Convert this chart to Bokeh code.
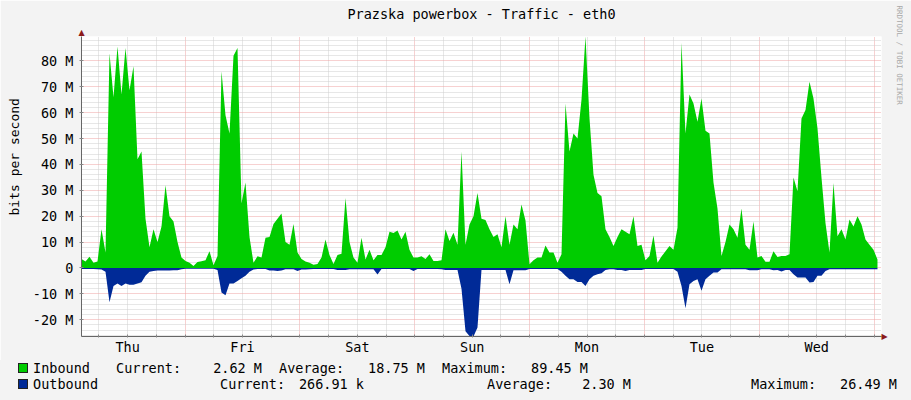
import numpy as np
from bokeh.plotting import figure
from bokeh.layouts import column
from bokeh.models import FixedTicker, Range1d, LinearAxis, Title, Div
from bokeh.embed import file_html
from bokeh.resources import INLINE

# ---------------- data ----------------
title_text = "Prazska powerbox - Traffic - eth0"
y_axis_label = "bits per second"
credit_text = "RRDTOOL / TOBI OETIKER"
day_names = ["Thu", "Fri", "Sat", "Sun", "Mon", "Tue", "Wed"]

# time of the first sample, hours after Thu 00:00, and sample spacing
start_hour = 2.36
step_minutes = 50.15

# inbound traffic, Mbit/s (one value per step)
inbound_M = [
    3.5, 2.5, 4.3, 2.0, 2.5, 15.0, 6.0, 83.0, 66.0, 85.6, 67.0, 85.0, 68.7, 78.0, 42.0, 45.0, 19.0,
    8.0, 15.0, 10.0, 16.0, 32.0, 20.0, 18.0, 10.0, 4.0, 2.7, 2.0, 0.8, 2.3, 2.6, 3.0, 6.5, 1.0,
    4.6, 76.0, 59.0, 52.0, 82.0, 85.0, 25.0, 33.0, 12.0, 2.0, 4.5, 4.0, 11.7, 12.0, 17.0, 19.0,
    21.0, 10.0, 9.0, 17.0, 6.0, 3.5, 2.5, 2.0, 1.2, 1.5, 4.0, 11.0, 5.0, 1.5, 5.0, 5.5, 27.0,
    10.0, 4.0, 2.0, 11.7, 3.3, 7.0, 3.0, 5.0, 5.0, 8.0, 14.0, 13.5, 14.5, 11.0, 14.0, 7.0, 4.0,
    4.0, 4.5, 3.5, 5.3, 2.7, 2.7, 3.0, 15.0, 10.4, 13.6, 9.0, 45.0, 9.0, 16.8, 20.0, 29.0,
    19.0, 18.5, 15.0, 12.0, 13.0, 8.0, 20.0, 9.0, 16.8, 15.0, 24.5, 18.3, 1.4, 3.0, 4.0, 4.0,
    8.7, 6.0, 6.0, 2.0, 5.3, 63.6, 45.0, 52.0, 50.0, 65.0, 89.45, 58.0, 36.0, 29.0, 27.7, 15.0,
    12.0, 8.5,
    12.0, 15.0, 14.0, 13.0, 20.0, 8.5, 9.0, 3.0, 4.6, 12.5, 2.0, 4.4, 6.5, 8.5, 7.0, 15.5, 87.0,
    52.0, 67.0, 63.6, 56.5, 65.5, 53.0, 52.0, 33.0, 23.0, 4.6, 10.0, 16.8, 15.0, 11.7, 23.0, 9.0,
    7.0, 18.0, 4.0, 4.6, 2.4, 2.4, 6.5, 4.2, 4.6, 4.6, 5.3, 35.0, 29.6, 57.8, 61.0, 72.0, 65.5,
    54.0, 35.0, 17.4, 6.0, 32.8, 12.3, 15.0, 11.0, 18.7, 16.0, 20.0, 16.8, 11.0, 9.0, 7.0, 3.3,
]

# outbound traffic, Mbit/s, drawn below zero
outbound_M = [
    -0.4, -0.4, -0.4, -0.4, -0.5, -0.6, -1.5, -13.3, -7.0, -6.0, -7.0, -6.0, -6.5, -6.5, -6.0,
    -5.5, -3.0, -1.5, -1.2, -1.0, -1.0, -1.0, -1.0, -0.9, -0.9, -0.5, -0.3, -0.3, -0.3, -0.3,
    -0.3, -0.3, -0.3, -0.3,
    -0.8, -9.5, -10.5, -6.0, -6.0, -5.0, -4.0, -3.0, -1.5, -0.6, -0.4, -0.4, -0.4, -1.0, -1.0,
    -1.2, -1.0, -0.5, -0.5, -0.5, -1.2, -0.6, -0.6, -0.5, -0.4, -0.4, -0.4, -0.4, -0.4, -0.4,
    -0.8, -0.8, -0.8,
    -0.5, -0.5, -0.5, -0.5, -0.5, -0.5, -0.5, -2.5, -0.4, -0.4, -0.4, -0.4, -0.4, -0.4, -0.4,
    -0.4, -1.2, -0.4, -0.4, -0.4, -0.4, -0.4, -0.4, -0.5, -0.8, -0.8, -0.8, -0.8, -8.0, -24.5,
    -26.3, -26.49, -23.0,
    -0.8, -0.8, -0.8, -0.8, -0.8, -0.8, -0.8, -6.3, -0.9, -0.9, -0.9, -0.9, -0.4, -0.4, -0.4,
    -0.4, -0.4, -0.4, -0.4, -0.4, -1.5, -3.0, -4.4, -4.4, -5.4, -5.4, -7.0, -4.4, -3.0, -2.4,
    -2.0, -0.8, -0.5, -0.5,
    -0.8, -0.8, -1.2, -0.8, -0.8, -0.8, -0.8, -0.4, -0.4, -0.4, -0.4, -0.4, -0.4, -0.4, -0.4,
    -1.5, -7.0, -15.6, -6.3, -5.0, -4.4, -8.8, -4.4, -3.0, -1.8, -1.8, -0.5, -0.5, -0.5, -0.5,
    -0.5, -0.5, -0.5,
    -0.9, -0.9, -0.9, -0.5, -0.5, -0.5, -0.9, -0.8, -1.4, -0.8, -0.8, -2.4, -3.7, -3.7, -3.7,
    -5.6, -5.4, -3.0, -3.0, -1.2, -0.5, -0.5, -0.5, -0.5, -0.5, -0.5, -0.5, -0.5, -0.5, -0.5,
    -0.5, -0.5, -0.5,
]

y_tick_values = [-20, -10, 0, 10, 20, 30, 40, 50, 60, 70, 80]
y_tick_labels = ["-20 M", "-10 M", "0", "10 M", "20 M", "30 M", "40 M", "50 M", "60 M", "70 M", "80 M"]

series_names = ["Inbound", "Outbound"]
stat_names = ["Current:", "Average:", "Maximum:"]
in_stats = ["2.62 M", "18.75 M", "89.45 M"]
out_stats = ["266.91 k", "2.30 M", "26.49 M"]

IN_COLOR = "#00CC00"
OUT_COLOR = "#002A97"
ARROW_C = "#8B1A1A"
BG = "#F3F3F3"
FONT = "DejaVu Sans Mono"
FS = "13.5px"

# ---------------- main chart ----------------
X0, X1 = 2.36, 2.36 + 167.17
Y0, Y1 = -26.49, 89.45

p = figure(frame_width=800, frame_height=300, output_backend="svg", toolbar_location=None,
           x_range=Range1d(X0, X1), y_range=Range1d(Y0, Y1),
           min_border_left=81, min_border_top=36, min_border_right=30, min_border_bottom=24)
p.border_fill_color = BG
p.background_fill_color = "#FFFFFF"
p.outline_line_color = None

t = start_hour + np.arange(len(inbound_M)) * step_minutes / 60.0
p.varea(x=t, y1=0, y2=inbound_M, fill_color=IN_COLOR)
p.varea(x=t, y1=0, y2=outbound_M, fill_color=OUT_COLOR)

midnights = [24 * d for d in range(1, 8)]
six_hours = [h for h in range(6, 170, 6) if h % 24 != 0]
noons = [24 * d + 12 for d in range(7)]
y_minor = [v for v in range(-26, 90, 2) if v % 10 != 0]

p.xgrid.ticker = FixedTicker(ticks=midnights, minor_ticks=six_hours)
p.ygrid.ticker = FixedTicker(ticks=y_tick_values, minor_ticks=y_minor)
for g in (p.xgrid, p.ygrid):
    g.grid_line_color = "#EFA3A3"
    g.grid_line_dash = "1 1"
    g.minor_grid_line_color = "#CFCFCF"
    g.minor_grid_line_dash = "1 1"

p.xaxis.ticker = FixedTicker(ticks=noons, minor_ticks=six_hours + midnights)
p.xaxis.major_label_overrides = {n: d for n, d in zip(noons, day_names)}
p.yaxis.ticker = FixedTicker(ticks=y_tick_values, minor_ticks=[])
p.yaxis.major_label_overrides = dict(zip(y_tick_values, y_tick_labels))

for ax in (p.xaxis[0], p.yaxis[0]):
    ax.axis_line_color = "#666666"
    ax.major_label_text_font = FONT
    ax.major_label_text_font_size = FS
    ax.major_label_text_color = "#000000"
    ax.major_tick_line_color = "#888888"
    ax.minor_tick_line_color = "#888888"
    ax.major_tick_in = 2
    ax.major_tick_out = 2
    ax.minor_tick_in = 2
    ax.minor_tick_out = 1
p.xaxis.major_tick_line_color = None
p.xaxis.major_label_standoff = 0
p.yaxis.major_label_standoff = 6

# arrow heads at the ends of the axes
p.extra_x_ranges = {"px": Range1d(0, 800)}
p.extra_y_ranges = {"py": Range1d(0, 300)}
top_arrow = LinearAxis(x_range_name="px", ticker=FixedTicker(ticks=[0]),
                       major_label_overrides={0: "\u25B2"})
right_arrow = LinearAxis(y_range_name="py", ticker=FixedTicker(ticks=[0]),
                         major_label_overrides={0: "\u25B6"})
for ax in (top_arrow, right_arrow):
    ax.axis_line_color = None
    ax.major_tick_line_color = None
    ax.minor_tick_line_color = None
    ax.major_tick_in = 0
    ax.major_tick_out = 0
    ax.minor_tick_in = 0
    ax.minor_tick_out = 0
    ax.major_label_standoff = 0
    ax.major_label_text_color = ARROW_C
    ax.major_label_text_font = "DejaVu Sans"
    ax.major_label_text_font_size = "8px"
p.add_layout(top_arrow, "above")
p.add_layout(right_arrow, "right")

p.add_layout(Title(text=title_text, align="center", text_font=FONT, text_font_size=FS,
                   text_font_style="normal", text_color="#000000", standoff=6), "above")
p.add_layout(Title(text=y_axis_label, align="left", offset=121, text_font=FONT,
                   text_font_size="13px", text_font_style="normal", text_color="#000000",
                   standoff=12, vertical_align="top"), "left")
p.add_layout(Title(text=credit_text, align="left", offset=-31, text_font=FONT,
                   text_font_size="7.5px", text_font_style="normal", text_color="#A8A8A8",
                   standoff=8), "right")

# ---------------- legend strip below the chart (pixel positions) ----------------
STRIP_TOP = 360                       # page y where the strip starts (= chart height)
row_base = [373, 389]                 # page y of the text baselines of the two rows
swatch_colors = [IN_COLOR, OUT_COLOR]
left_x = [[33, 116, 279, 442], [33, 220, 487, 751]]
right_x = [[262, 425, 588], [364, 631, 897]]
ASC = 0.846 * 13.5                    # baseline offset inside a line box of line-height 1

parts = []
for r, (name, stats) in enumerate(zip(series_names, [in_stats, out_stats])):
    top = row_base[r] - ASC - STRIP_TOP
    parts.append(
        f'<span style="position:absolute;left:18px;top:{row_base[r] - 10 - STRIP_TOP}px;'
        f'width:10px;height:10px;box-sizing:border-box;background:{swatch_colors[r]};'
        f'border:1px solid #222222;"></span>')
    parts.append(f'<span style="position:absolute;left:{left_x[r][0]}px;top:{top:.1f}px;">{name}</span>')
    for k in range(3):
        parts.append(f'<span style="position:absolute;left:{left_x[r][k + 1]}px;top:{top:.1f}px;">'
                     f'{stat_names[k]}</span>')
        parts.append(f'<span style="position:absolute;right:{911 - right_x[r][k]}px;top:{top:.1f}px;">'
                     f'{stats[k]}</span>')

html = (f'<div style="position:relative;width:911px;height:40px;background:{BG};'
        f"font-family:'{FONT}';font-size:{FS};line-height:1;color:#000000;white-space:pre;"
        f'margin:0;padding:0;">' + "".join(parts) + "</div>")
legend_strip = Div(text=html, width=911, height=40, margin=0,
                   styles={"background-color": BG, "margin": "0", "padding": "0"})

open("out.html", "w").write(file_html(column(p, legend_strip, spacing=0), INLINE))
